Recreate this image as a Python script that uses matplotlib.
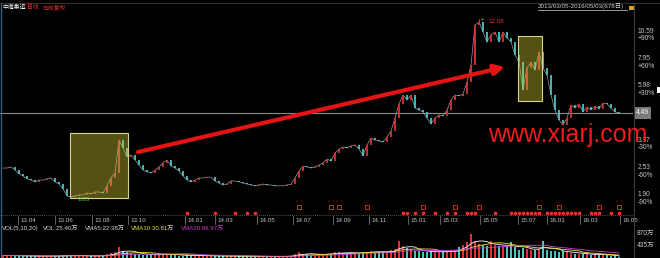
import numpy as np
import pandas as pd
import matplotlib
matplotlib.use("Agg")
import matplotlib.pyplot as plt
from matplotlib.patches import Rectangle
from matplotlib.transforms import blended_transform_factory as blend

# daily-ish closes of 中海集运, 2013/03 - 2016/05 (one value per bar)
closes = [
    2.52, 2.52, 2.55, 2.47, 2.37, 2.32, 2.25, 2.22, 2.18, 2.22,
    2.22, 2.25, 2.27, 2.18, 2.13, 2.02, 1.88, 1.86, 1.88, 1.90,
    1.90, 1.94, 1.92, 1.96, 1.96, 1.94, 2.09, 2.27, 2.39, 3.38,
    3.11, 2.83, 2.89, 2.74, 2.60, 2.47, 2.42, 2.39, 2.47, 2.55,
    2.66, 2.74, 2.57, 2.52, 2.44, 2.32, 2.22, 2.18, 2.22, 2.27,
    2.27, 2.29, 2.29, 2.20, 2.15, 2.11, 2.13, 2.20, 2.20, 2.18,
    2.15, 2.13, 2.11, 2.09, 2.11, 2.13, 2.11, 2.11, 2.09, 2.09,
    2.09, 2.11, 2.13, 2.27, 2.44, 2.57, 2.55, 2.52, 2.55, 2.60,
    2.66, 2.77, 2.71, 2.95, 3.08, 3.14, 3.11, 3.18, 3.21, 3.08,
    2.86, 3.21, 3.45, 3.38, 3.35, 3.31, 3.49, 3.72, 4.26, 4.94,
    5.42, 5.15, 5.42, 4.73, 4.63, 4.54, 4.26, 4.00, 4.26, 4.40,
    4.35, 4.63, 5.15, 5.42, 5.37, 5.48, 6.22, 7.43, 11.31, 11.67,
    10.51, 9.46, 10.18, 10.51, 9.46, 10.51, 9.87, 9.46, 8.26, 7.67,
    5.72, 7.20, 7.67, 7.05, 8.52, 7.20, 6.69, 5.42, 4.63, 4.17,
    3.96, 4.26, 4.88, 4.73, 4.94, 4.54, 4.78, 4.63, 4.83, 4.68,
    4.99, 4.94, 4.73, 4.54, 4.49,
]
# volume, 万股
volumes = [
    90, 80, 100, 70, 80, 70, 60, 70, 60, 70,
    60, 70, 60, 70, 80, 100, 120, 90, 80, 70,
    70, 80, 70, 80, 70, 90, 140, 180, 220, 380,
    260, 200, 180, 160, 140, 120, 100, 110, 120, 130,
    150, 140, 110, 100, 90, 90, 100, 80, 90, 80,
    80, 70, 70, 80, 70, 60, 70, 70, 60, 60,
    60, 60, 50, 60, 50, 60, 50, 60, 50, 60,
    60, 70, 80, 160, 200, 150, 130, 120, 110, 130,
    140, 150, 160, 200, 220, 180, 170, 190, 170, 180,
    200, 230, 260, 220, 210, 200, 230, 280, 330, 600,
    420, 360, 330, 260, 240, 220, 210, 250, 230, 220,
    200, 240, 280, 300, 380, 460, 560, 880, 620, 520,
    480, 440, 600, 480, 420, 380, 420, 560, 380, 300,
    360, 330, 300, 280, 330, 620, 300, 260, 240, 220,
    240, 200, 180, 160, 150, 140, 130, 120, 140, 120,
    110, 100, 80, 60, 25,
]
peak_high = 12.08
low_label = "1.85"

tick_pos = [3.75, 13, 22.25, 31.25, 45.5, 53, 63.5, 72.5, 82.5, 91.5,
            101.25, 109.25, 119.25, 128.75, 136, 144.25, 154.25]
tick_labels = ["13.04", "13.06", "13.08", "13.10", "14.01", "14.03", "14.05", "14.07",
               "14.09", "14.11", "15.01", "15.03", "15.05", "15.07", "16.01", "16.03", "16.05"]

level_prices = [10.59, 7.95, 5.98, 4.49, 3.37, 2.53, 1.90]
level_pcts = ["+90%", "+60%", "+30%", "", "-30%", "-60%", "-90%"]

event_dots = [46, 53, 58, 61, 63, 100, 101, 103, 105, 108, 111, 113, 116, 117, 118, 123,
              127, 128, 129, 130, 131, 132, 133, 134, 136, 137, 138, 139, 140, 141, 142,
              143, 144, 147, 148, 149, 152, 154]
event_squares = [74, 82, 84, 91, 105, 113, 119, 134, 139, 149, 154]

# highlighted zones (bar range, price range) and trend arrow
box1 = (16.75, 31.25, 1.84, 3.64)
box2 = (128.75, 134.75, 5.09, 10.08)
arrow_from = (33.75, 2.98)
arrow_to = (125.5, 7.28)

W, H = 660, 258
UP, DOWN = "#dc3434", "#4cc4c4"
NUM = ["Liberation Sans", "Noto Sans CJK SC"]
CJK = ["Noto Sans CJK SC", "DejaVu Sans"]


def fx(px):
    return px / W


def fy(py):
    return 1 - py / H


fig = plt.figure(figsize=(W / 100, H / 100), dpi=100, facecolor="black")

ax = fig.add_axes([0, fy(214), fx(633), (214 - 8) / H])
vax = fig.add_axes([0, 0, fx(633), 25 / H])
for a in (ax, vax):
    a.set_facecolor("black")
    a.set_axis_off()
    a.set_xlim(-0.75, 157.5)

idx = np.arange(len(closes))
c = np.array(closes)
o = np.concatenate([[c[0]], c[:-1]])
cols = [UP if cc >= oo else DOWN for oo, cc in zip(o, c)]

ax.set_yscale("log")
ax.set_ylim(1.555, 13.52)
ax.axhline(closes[-1], color="#8a8a8a", lw=0.8, zorder=1)
ax.plot(idx, c, color="#9a9a9a", lw=0.5, zorder=2)
ax.vlines(idx, np.minimum(o, c), np.maximum(o, c), colors=cols, lw=1.3, zorder=2)

peak_i = int(np.argmax(c))
ax.vlines(peak_i, c[peak_i], peak_high, colors=UP, lw=0.8, zorder=2)
ax.annotate(f"{peak_high:.2f}", xy=(peak_i, peak_high), xytext=(7, -2),
            textcoords="offset points", color="#e03030", fontsize=4.5, family=NUM,
            va="center", arrowprops=dict(arrowstyle="-", color="white", lw=0.5))
low_i = int(np.argmin(c))
ax.text(low_i + 1.5, c[low_i], low_label, color="#40e040", fontsize=4.5,
        family=NUM, va="top")

for (x0, x1, y0, y1) in (box1, box2):
    ax.add_patch(Rectangle((x0, y0), x1 - x0, y1 - y0, facecolor="#c8c432",
                           alpha=0.42, edgecolor="none", zorder=3))
    ax.add_patch(Rectangle((x0, y0), x1 - x0, y1 - y0, facecolor="none",
                           edgecolor="#d6d48c", lw=0.8, zorder=3))

ax.annotate("", xy=arrow_to, xytext=arrow_from,
            arrowprops=dict(arrowstyle="-|>,head_length=0.6,head_width=0.3",
                            color="#e41414", lw=3, shrinkA=0, shrinkB=0), zorder=4)

# right price scale
rt = blend(fig.transFigure, ax.transData)
for p, pct in zip(level_prices, level_pcts):
    if pct:
        ax.text(fx(638), p, f"{p:.2f}", transform=rt, color="#c8c8c8", fontsize=4.8,
                family=NUM, va="center", clip_on=False)
        ax.annotate(pct, xy=(fx(638), p), xycoords=rt, xytext=(0, -5.5),
                    textcoords="offset points", color="#c8c8c8", fontsize=4.8,
                    family=NUM, va="center")
    else:
        ax.text(fx(636), p, f"{p:.2f}", transform=rt, color="white", fontsize=4.8,
                family=NUM, va="center", clip_on=False,
                bbox=dict(boxstyle="square,pad=0.35", fc="#7a7a7a", ec="none"))

# event markers
bt = blend(ax.transData, fig.transFigure)
ax.plot(event_dots, [fy(213)] * len(event_dots), "o", ms=1.6, color="#ff2a2a",
        transform=bt, clip_on=False)
ax.plot(event_squares, [fy(207)] * len(event_squares), "s", ms=2.4, mfc="none",
        mec="#ff2a2a", mew=0.6, transform=bt, clip_on=False)

# date strip
fig.add_artist(plt.Line2D([0, fx(633)], [fy(215), fy(215)], color="#707070",
                          lw=0.6, ls=(0, (1, 1.5))))
for tp, tl in zip(tick_pos, tick_labels):
    ax.plot([tp, tp], [fy(216), fy(224)], color="#707070", lw=0.6, transform=bt,
            clip_on=False)
    ax.text(tp + 0.5, fy(220.5), tl, transform=bt, color="#c0c0c0", fontsize=4.5,
            family=NUM, va="center")

# volume panel
v = pd.Series(volumes, dtype=float)
vax.set_ylim(0, 900)
vax.bar(idx, volumes, width=0.6, color=cols, zorder=2)
vax.plot(idx, v.rolling(5, min_periods=1).mean(), color="white", lw=0.6, zorder=3)
vax.plot(idx, v.rolling(10, min_periods=1).mean(), color="#e6e640", lw=0.6, zorder=3)
vax.plot(idx, v.rolling(20, min_periods=1).mean(), color="#d040d0", lw=0.6, zorder=3)
vt = blend(fig.transFigure, vax.transData)
for val in (870, 435):
    vax.text(fx(637), val, f"{val}万", transform=vt, color="#c8c8c8", fontsize=4.8,
             family=NUM, va="center", clip_on=False)

vol_labels = [(2, "VOL(5,10,20)", "#d8d8d8"), (43, "VOL:25.40万", "#d8d8d8"),
              (85, "VMA5:22.38万", "#d8d8d8"), (131, "VMA10:30.81万", "#e6e640"),
              (181, "VMA20:66.97万", "#d040d0")]
for px, txt, col in vol_labels:
    fig.text(fx(px), fy(228.5), txt, color=col, fontsize=4.4, family=NUM, va="center")

# frame lines and header
fig.add_artist(plt.Line2D([fx(1), fx(1)], [0, fy(3)], color="#3a5a8a", lw=1))
fig.add_artist(plt.Line2D([fx(633.5), fx(633.5)], [0, fy(3)], color="#3c3c3c", lw=0.8))
fig.add_artist(plt.Line2D([0, 1], [fy(3), fy(3)], color="#3c3c3c", lw=0.6))
fig.text(fx(2), fy(7.5), "中海集运", color="white", fontsize=4.2, family=CJK, va="center")
fig.text(fx(27), fy(7.5), "日线", color="#e03030", fontsize=4.2, family=CJK, va="center")
fig.text(fx(42), fy(7.5), "向前复权", color="#e03030", fontsize=4.2, family=CJK, va="center")
fig.text(fx(538), fy(6.5), "2013/03/05-2016/05/03(678日)", color="#d0d0d0",
         fontsize=4.5, family=NUM, va="center")
fig.add_artist(plt.Line2D([fx(538), fx(627)], [fy(10), fy(10)], color="#d0d0d0", lw=0.5))
fig.add_artist(Rectangle((fx(629), fy(10)), fx(5), 4 / H, transform=fig.transFigure,
                         facecolor="#e0a020", edgecolor="none"))
fig.add_artist(Rectangle((fx(657), fy(93)), fx(3), 6 / H, transform=fig.transFigure,
                         facecolor="white", edgecolor="none"))

fig.text(fx(488), fy(142), "www.xiarj.com", color="#ee1c1c", fontsize=18,
         family="Liberation Sans", va="baseline")

fig.savefig("out.png", dpi=100, facecolor="black")
